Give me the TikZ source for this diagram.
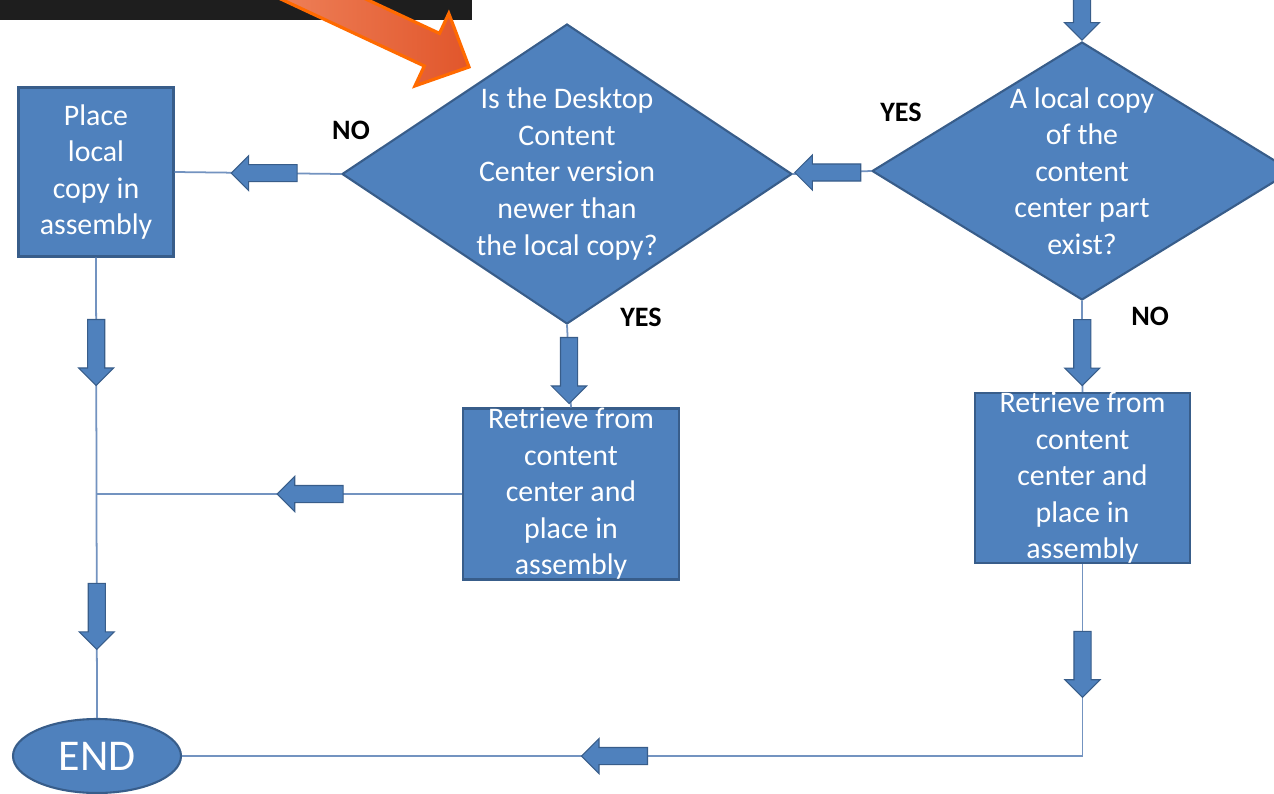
\documentclass[tikz,border=0pt]{standalone}
\usepackage{fontspec}
\setmainfont{Carlito}
\usepackage{xcolor}
\usepackage{tikz}
\usetikzlibrary{shapes.geometric,shapes.arrows,positioning,calc}

\definecolor{boxblue}{HTML}{4F81BD}
\definecolor{boxline}{HTML}{385D8A}
\definecolor{connline}{HTML}{7393C0}
\definecolor{barblack}{HTML}{1E1E1E}
\definecolor{orlight}{HTML}{F3916B}
\definecolor{ordark}{HTML}{E1562B}
\definecolor{orline}{HTML}{FF6A00}

\tikzset{
    stepbox/.style={rectangle, draw=boxline, fill=boxblue, line width=1.2pt, text=white,
        minimum width=3.1cm, minimum height=3.38cm, inner xsep=0pt, inner ysep=-0.1cm,
        align=center, font=\fontsize{17}{20.8}\selectfont},
    decision/.style={diamond, draw=boxline, fill=boxblue, line width=1.2pt, text=white,
        inner xsep=0pt, inner ysep=-0.2cm, align=center, font=\fontsize{17}{20.8}\selectfont},
    endnode/.style={ellipse, draw=boxline, fill=boxblue, line width=1.2pt, text=white,
        minimum width=3.36cm, minimum height=1.48cm, inner sep=0pt, font=\fontsize{25}{30}\selectfont},
    blkarrow/.style={single arrow, draw=boxline, fill=boxblue, line width=0.6pt,
        minimum height=1.32cm, inner xsep=0pt, inner ysep=0.16cm, single arrow head extend=0.18cm},
    conn/.style={draw=connline, line width=1pt},
    lbl/.style={font=\fontsize{16}{19}\selectfont\bfseries}
}

\begin{document}
\begin{tikzpicture}[x=0.02cm, y=-0.02cm]
    \path[use as bounding box, fill=white] (0,0) rectangle (1274,794);

    % Top bar and pointer
    \fill[barblack] (0,0) rectangle (472,20);
    \draw[orline, line width=1.8pt, line join=miter, left color=orlight, right color=ordark]
        (197.8,-39.7) -- (213,-72.3) -- (439.5,33.4) -- (448.8,13.5) -- (469,67)
        -- (415,85.9) -- (424.3,66) -- cycle;

    % Boxes
    \node[stepbox] (p1) at (96,172) {Place\\local\\copy in\\assembly};
    \node[decision, minimum width=9cm, minimum height=6cm, shape aspect=1.5] (d1) at (567,174)
        {Is the Desktop\\Content\\Center version\\newer than\\the local copy?};
    \node[decision, minimum width=8.4cm, minimum height=5.16cm, shape aspect=1.63] (d2) at (1082,171)
        {A local copy\\of the\\content\\center part\\exist?};
    \node[stepbox, minimum width=4.32cm, minimum height=3.42cm] (r1) at (571,494)
        {Retrieve from\\content\\center and\\place in\\assembly};
    \node[stepbox, minimum width=4.3cm, minimum height=3.4cm] (r2) at (1082.5,478)
        {Retrieve from\\content\\center and\\place in\\assembly};
    \node[endnode] (end) at (97,756) {END};

    % Labels
    \node[lbl] (no1) at (351,130) {NO};
    \node[lbl] (yes1) at (901,112) {YES};
    \node[lbl] (yes2) at (641,317) {YES};
    \node[lbl] (no2) at (1150,316) {NO};

    % Connectors
    \node[blkarrow, rotate=-90, anchor=tip] (a0) at (d2.north) {};
    \draw[conn] (d2.west) -- node[blkarrow, rotate=180] (a2) {} (d1.east);
    \draw[conn] (d1.west) -- node[blkarrow, rotate=180, pos=0.436] (a1) {} (p1.east);
    \draw[conn] (d1.south) -- node[blkarrow, rotate=-90] (a3) {} (r1.north);
    \draw[conn] (d2.south) -- node[blkarrow, rotate=-90, pos=0.52] (a4) {} (r2.north);
    \draw[conn] (p1.south) -- node[blkarrow, rotate=-90, pos=0.197] (a5) {}
        node[blkarrow, rotate=-90, pos=0.77] (a6) {} (end.north);
    \coordinate (j1) at (p1.south |- r1.west);
    \draw[conn] (r1.west) -- node[blkarrow, rotate=180, pos=0.403] (a7) {} (j1);
    \draw[conn] (r2.south) |- node[blkarrow, rotate=-90, pos=0.25] (a8) {}
        node[blkarrow, rotate=180, pos=0.7575] (a9) {} (end.east);
\end{tikzpicture}
\end{document}
